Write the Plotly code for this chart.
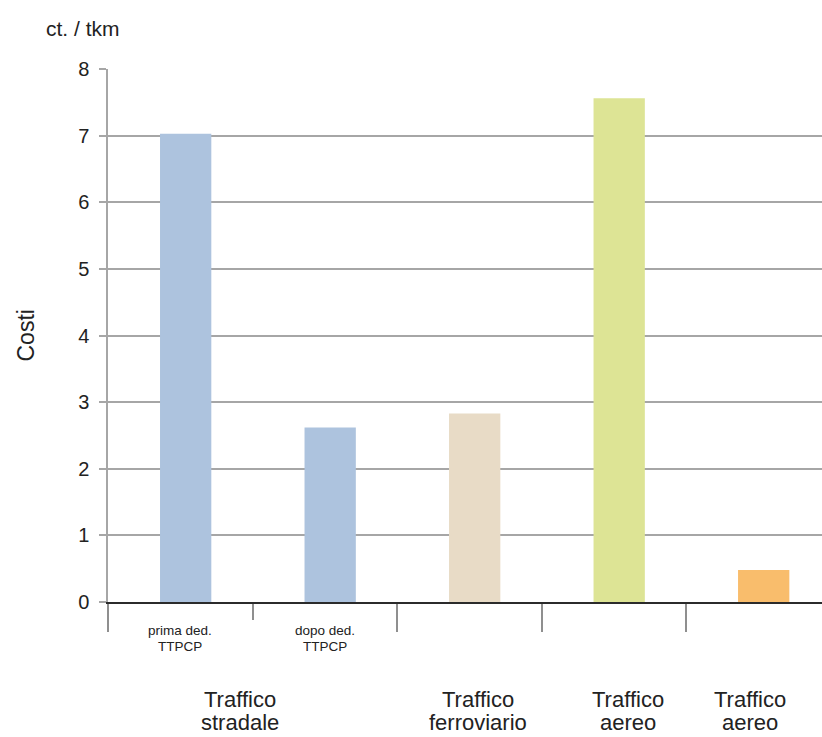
import plotly.graph_objects as go

# Costs per tonne-kilometre (ct./tkm)
values = [7.03, 2.62, 2.83, 7.56, 0.48]
bar_colors = ["#adc3de", "#adc3de", "#e8dbc6", "#dde495", "#f9bd6c"]
sub_labels = ["prima ded.<br>TTPCP", "dopo ded.<br>TTPCP", "", "", ""]
group_labels = [
    ("Traffico", "stradale", 0.41),
    ("Traffico", "ferroviario", 2.06),
    ("Traffico", "aereo", 3.10),
    ("Traffico", "aereo", 3.94),
]
y_ticks = list(range(0, 9))

positions = list(range(len(values)))
FONT = "Liberation Sans, Arial, sans-serif"
GRID = "#a6a6a6"
TEXT = "#222222"

fig = go.Figure(
    go.Bar(
        x=positions,
        y=values,
        width=0.355,
        offset=-0.14,
        marker=dict(color=bar_colors, line=dict(width=0)),
        hoverinfo="y",
    )
)

fig.update_layout(
    width=822,
    height=737,
    margin=dict(l=108, r=0, t=69, b=135),
    paper_bgcolor="white",
    plot_bgcolor="white",
    showlegend=False,
    font=dict(family=FONT, color=TEXT),
)

fig.update_xaxes(
    range=[-0.5, 4.441],
    showgrid=False,
    zeroline=False,
    showline=True,
    linecolor="#2b2b2b",
    linewidth=2,
    tickmode="array",
    tickvals=[-0.5, 1.5, 2.5, 3.5],
    ticktext=["", "", "", ""],
    ticks="outside",
    ticklen=28,
    tickwidth=1.5,
    tickcolor="#8f8f8f",
    minor=dict(tickvals=[0.5], ticks="outside", ticklen=16,
               tickwidth=1.5, tickcolor="#8f8f8f", showgrid=False),
)

fig.update_yaxes(
    range=[0, 8],
    tickvals=y_ticks,
    showgrid=True,
    gridcolor=GRID,
    gridwidth=2,
    zeroline=False,
    showline=True,
    linecolor=GRID,
    linewidth=1.5,
    ticks="outside",
    ticklen=7,
    tickwidth=1.5,
    tickcolor=GRID,
    ticklabelstandoff=6,
    tickfont=dict(family=FONT, size=20, color=TEXT),
)

annotations = []

# unit label above the value axis
annotations.append(dict(
    text="ct. / tkm", xref="paper", yref="paper", x=0, y=1,
    xanchor="center", yanchor="middle", xshift=-25, yshift=41,
    showarrow=False, font=dict(family=FONT, size=21, color=TEXT),
))

# value axis title
annotations.append(dict(
    text="Costi", xref="paper", yref="paper", x=0, y=0.5,
    xanchor="center", yanchor="middle", xshift=-83, textangle=-90,
    showarrow=False, font=dict(family=FONT, size=23, color=TEXT),
))

# sub-category labels under the first two bars
for pos, lab in zip(positions, sub_labels):
    if not lab:
        continue
    for i, line in enumerate(lab.split("<br>")):
        annotations.append(dict(
            text=line, xref="x", yref="paper", x=pos, y=0,
            xanchor="center", yanchor="middle", yshift=-28 - 16 * i,
            showarrow=False, font=dict(family=FONT, size=13.5, color=TEXT),
        ))

# group labels
for top, bottom, gx in group_labels:
    for i, line in enumerate((top, bottom)):
        annotations.append(dict(
            text=line, xref="x", yref="paper", x=gx, y=0,
            xanchor="center", yanchor="middle", yshift=-97 - 23 * i,
            showarrow=False, font=dict(family=FONT, size=22, color=TEXT),
        ))

fig.update_layout(annotations=annotations)

fig.write_html("out.html")
